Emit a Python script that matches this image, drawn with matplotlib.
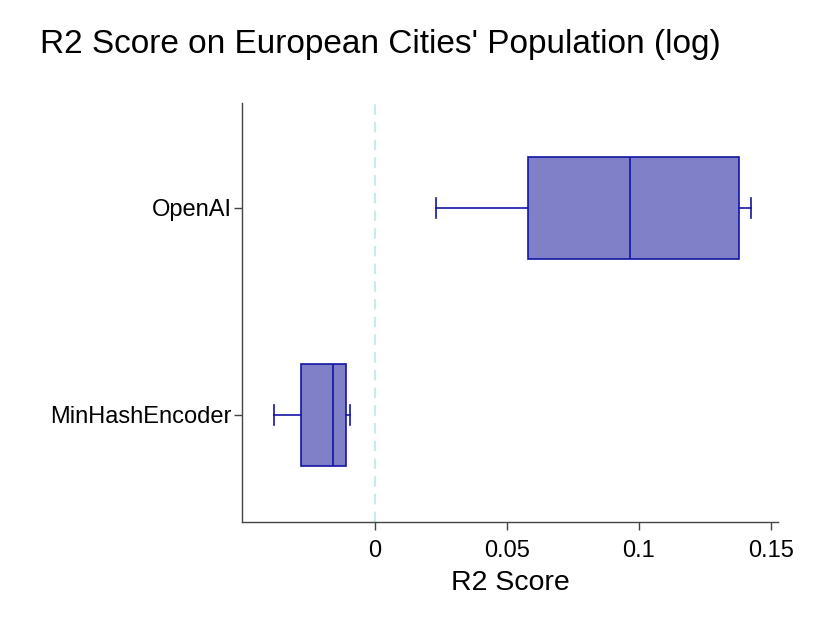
import matplotlib
matplotlib.use("Agg")
import matplotlib.pyplot as plt

plt.rcParams["font.family"] = ["Liberation Sans", "DejaVu Sans"]

# Box statistics
labels = ["MinHashEncoder", "OpenAI"]
whislo = [-0.0383, 0.0231]
q1 = [-0.0280, 0.0580]
med = [-0.0159, 0.0966]
q3 = [-0.0110, 0.1379]
whishi = [-0.0095, 0.1424]

fill_color = "#8080c8"
edge_color = "#1414a4"

fig = plt.figure(figsize=(8.3, 6.23), dpi=100)
ax = fig.add_axes([0.2916, 0.1621, 0.6457, 0.6726])

stats = []
for i in range(len(labels)):
    stats.append({
        "label": labels[i],
        "whislo": whislo[i],
        "q1": q1[i],
        "med": med[i],
        "q3": q3[i],
        "whishi": whishi[i],
        "fliers": [],
    })

ax.axvline(0, color="#c4ecea", linestyle=(0, (5, 3.5)), linewidth=1.5, zorder=0)

ax.bxp(stats, positions=[0, 1], vert=False, widths=0.49, capwidths=0.1,
       patch_artist=True, showfliers=False,
       boxprops=dict(facecolor=fill_color, edgecolor=edge_color, linewidth=1.2),
       medianprops=dict(color=edge_color, linewidth=1.2),
       whiskerprops=dict(color=edge_color, linewidth=1.2),
       capprops=dict(color=edge_color, linewidth=1.2))

ax.set_xlim(-0.0504, 0.1527)
ax.set_ylim(-0.517, 1.507)
ax.set_xticks([0, 0.05, 0.1, 0.15])
ax.set_xticklabels(["0", "0.05", "0.1", "0.15"])
ax.set_yticks([0, 1])
ax.set_yticklabels(labels)

for s in ["top", "right"]:
    ax.spines[s].set_visible(False)
for s in ["left", "bottom"]:
    ax.spines[s].set_color("#444444")
    ax.spines[s].set_linewidth(1.0)
ax.tick_params(axis="both", colors="#444444", labelcolor="black", labelsize=17,
               length=6, width=1.0)
ax.tick_params(axis="x", pad=7)
ax.tick_params(axis="y", pad=1.5)

ax.set_xlabel("R2 Score", fontsize=20.5, labelpad=6)
fig.text(0.048, 0.928, "R2 Score on European Cities' Population (log)", fontsize=24,
         ha="left", va="center")

fig.savefig("out.png", dpi=100)
